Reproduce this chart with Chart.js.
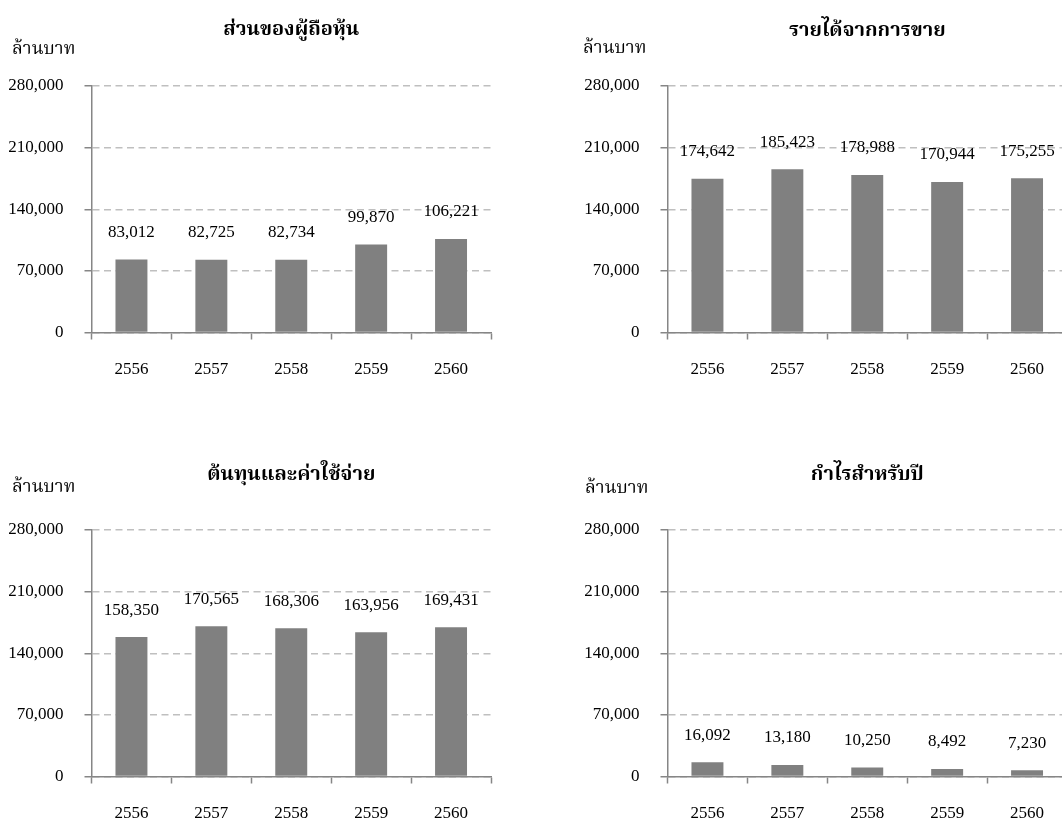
<!DOCTYPE html>
<html lang="th">
<head>
<meta charset="utf-8">
<title>ผลการดำเนินงาน 2556-2560</title>
<script src="https://cdn.jsdelivr.net/npm/chart.js@4"></script>
<style>
  html, body { margin: 0; padding: 0; background: #fff; overflow: hidden; width: 1062px; height: 822px; }
  .panel { position: absolute; }
</style>
</head>
<body>
<canvas id="equity" class="panel" style="left:0px;top:0px"></canvas>
<canvas id="revenue" class="panel" style="left:576px;top:0px"></canvas>
<canvas id="costs" class="panel" style="left:0px;top:444px"></canvas>
<canvas id="profit" class="panel" style="left:576px;top:444px"></canvas>
<script>
// Fiscal years (Buddhist era)
const years = ['2556', '2557', '2558', '2559', '2560'];

// Values in million baht
const equityValues  = [83012, 82725, 82734, 99870, 106221];
const revenueValues = [174642, 185423, 178988, 170944, 175255];
const costValues    = [158350, 170565, 168306, 163956, 169431];
const profitValues  = [16092, 13180, 10250, 8492, 7230];

// Shared value axis
const axisMax = 280000;
const axisStep = 70000;

const unitLabel = 'ล้านบาท';
const titles = {
  equity:  'ส่วนของผู้ถือหุ้น',
  revenue: 'รายได้จากการขาย',
  costs:   'ต้นทุนและค่าใช้จ่าย',
  profit:  'กำไรสำหรับปี'
};

const FONT = "'Liberation Serif', 'Times New Roman', 'Noto Serif Thai', 'Noto Sans Thai', 'Loma', 'Norasi', serif";
const W = 531, H = 411;
const fmt = v => Number(v).toLocaleString('en-US');

// Panel title over the plot area plus the unit caption at the top left
const headerPlugin = {
  id: 'header',
  afterDraw(chart, args, opts) {
    const ctx = chart.ctx, ca = chart.chartArea;
    ctx.save();
    ctx.fillStyle = '#000';
    ctx.textBaseline = 'middle';
    ctx.textAlign = 'center';
    ctx.font = 'bold 20px ' + FONT;
    ctx.fillText(opts.title, (ca.left + ca.right) / 2, opts.titleY);
    ctx.textAlign = 'left';
    ctx.font = '18px ' + FONT;
    ctx.fillText(opts.unit, opts.unitX, opts.unitY);
    ctx.restore();
  }
};

// Value labels above each bar
const valueLabelPlugin = {
  id: 'valueLabels',
  afterDatasetsDraw(chart) {
    const ctx = chart.ctx;
    ctx.save();
    ctx.fillStyle = '#000';
    ctx.font = '17px ' + FONT;
    ctx.textAlign = 'center';
    ctx.textBaseline = 'middle';
    chart.data.datasets.forEach((ds, di) => {
      chart.getDatasetMeta(di).data.forEach((bar, i) => {
        ctx.fillText(fmt(ds.data[i]), bar.x, bar.y - 27);
      });
    });
    ctx.restore();
  }
};

function makeChart(id, values, header) {
  const canvas = document.getElementById(id);
  canvas.width = W;
  canvas.height = H;
  canvas.style.width = W + 'px';
  canvas.style.height = H + 'px';
  return new Chart(canvas, {
    type: 'bar',
    data: {
      labels: years,
      datasets: [{
        data: values,
        backgroundColor: '#808080',
        borderWidth: 0,
        barPercentage: 0.4,
        categoryPercentage: 1.0
      }]
    },
    options: {
      responsive: false,
      animation: false,
      devicePixelRatio: 1,
      layout: { padding: { top: 86, right: 40, left: 0, bottom: 0 } },
      plugins: {
        legend: { display: false },
        tooltip: { enabled: false },
        header: header
      },
      scales: {
        x: {
          offset: true,
          grid: {
            offset: true,
            drawOnChartArea: false,
            drawTicks: true,
            tickLength: 7,
            tickColor: '#868686',
            tickWidth: 1.5
          },
          border: { display: true, color: '#868686', width: 1.5 },
          ticks: {
            color: '#000',
            padding: 20,
            font: { family: FONT, size: 17 }
          },
          afterFit(scale) { scale.height = 78.5; }
        },
        y: {
          min: 0,
          max: axisMax,
          ticks: {
            stepSize: axisStep,
            color: '#000',
            padding: 21,
            font: { family: FONT, size: 17 },
            callback: v => fmt(v)
          },
          grid: {
            color: '#BFBFBF',
            lineWidth: 1.5,
            drawTicks: true,
            tickLength: 7,
            tickColor: '#868686',
            tickWidth: 1.5,
            tickBorderDash: []
          },
          border: { display: true, color: '#868686', width: 1.5, dash: [7, 4.5] },
          afterFit(scale) { scale.width = 91.5; }
        }
      }
    },
    plugins: [headerPlugin, valueLabelPlugin]
  });
}

makeChart('equity', equityValues, { title: titles.equity, unit: unitLabel, titleY: 30, unitX: 12, unitY: 49 });
makeChart('revenue', revenueValues, { title: titles.revenue, unit: unitLabel, titleY: 31, unitX: 7, unitY: 48 });
makeChart('costs', costValues, { title: titles.costs, unit: unitLabel, titleY: 31, unitX: 12, unitY: 43 });
makeChart('profit', profitValues, { title: titles.profit, unit: unitLabel, titleY: 31, unitX: 9, unitY: 44 });
</script>
</body>
</html>
